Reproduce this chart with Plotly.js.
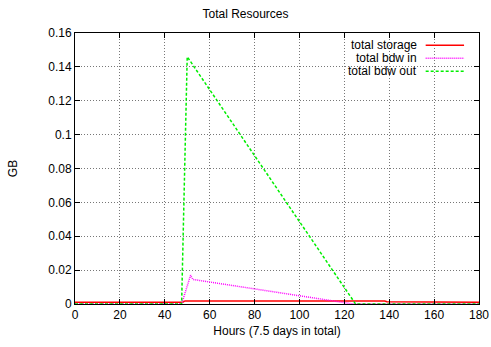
<!DOCTYPE html>
<html><head><meta charset="utf-8">
<script src="https://cdn.plot.ly/plotly-3.0.1.min.js"></script>
<style>body{margin:0;background:#fff}#c{width:491px;height:347px}</style>
</head><body><div id="c"></div>
<script>
const seriesNames = ["total storage", "total bdw in", "total bdw out"];
const storageX = [0, 48, 49, 138, 139, 148, 149, 180];
const storageY = [0.001, 0.001, 0.0018, 0.0018, 0.0013, 0.0013, 0.001, 0.001];
const bdwInX = [0, 47.5, 51.5, 52.5, 124, 180];
const bdwInY = [0, 0, 0.017, 0.0145, 0, 0];
const bdwOutX = [0, 47.5, 50, 125, 180];
const bdwOutY = [0, 0, 0.146, 0, 0];
const xTicks = [0, 20, 40, 60, 80, 100, 120, 140, 160, 180];
const yTicks = [0, 0.02, 0.04, 0.06, 0.08, 0.1, 0.12, 0.14, 0.16];
const yTickText = ["0", "0.02", "0.04", "0.06", "0.08", "0.1", "0.12", "0.14", "0.16"];

const colors = ["#ff0000", "#ff00ff", "#00ee00"];
const dashes = ["solid", "1px,1px", "3px,2px"];
const xs = [storageX, bdwInX, bdwOutX];
const ys = [storageY, bdwInY, bdwOutY];

const traces = xs.map((x, i) => ({
  x: x, y: ys[i], type: "scatter", mode: "lines", name: seriesNames[i],
  line: {color: colors[i], width: 1.5, dash: dashes[i]}, showlegend: false
}));

const ff = "Liberation Sans, Arial, sans-serif";
const annotations = [];
const shapes = [];
const legTop = 0.955, legStep = 0.048;
// white background behind legend to hide grid
shapes.push({type: "rect", xref: "paper", yref: "paper", x0: 0.6, x1: 0.985, y0: 0.85, y1: 0.993,
  fillcolor: "#fff", line: {width: 0}, layer: "between"});
seriesNames.forEach((n, i) => {
  const yy = legTop - i * legStep;
  annotations.push({xref: "paper", yref: "paper", x: 0.852, y: yy, xanchor: "right", yanchor: "middle",
    text: n, showarrow: false, font: {family: ff, size: 12, color: "#000"}});
  shapes.push({type: "line", xref: "paper", yref: "paper", x0: 0.868, x1: 0.963, y0: yy, y1: yy,
    line: {color: colors[i], width: 1.5, dash: dashes[i]}});
});

const axisCommon = {
  ticks: "inside", ticklen: 5, tickcolor: "#000",
  showline: true, linecolor: "#000", linewidth: 1, mirror: "allticks",
  showgrid: true, gridcolor: "#777", griddash: "1px,2px", gridwidth: 1, zeroline: false,
  tickfont: {family: ff, size: 12, color: "#000"}
};

const layout = {
  width: 491, height: 347,
  margin: {l: 75, r: 12, t: 33, b: 43},
  paper_bgcolor: "#fff", plot_bgcolor: "#fff",
  font: {family: ff, size: 12, color: "#000"},
  title: {text: "Total Resources", font: {family: ff, size: 12, color: "#000"}, x: 0.5, xanchor: "center", y: 0.96, yanchor: "middle"},
  xaxis: Object.assign({}, axisCommon, {
    range: [0, 180], tickvals: xTicks,
    title: {text: "Hours (7.5 days in total)", font: {family: ff, size: 12, color: "#000"}, standoff: 5}
  }),
  yaxis: Object.assign({}, axisCommon, {
    range: [0, 0.16], tickvals: yTicks, ticktext: yTickText,
    title: {text: "GB", font: {family: ff, size: 12, color: "#000"}, standoff: 28}
  }),
  annotations: annotations,
  shapes: shapes,
  showlegend: false
};
Plotly.newPlot("c", traces, layout, {staticPlot: true, displayModeBar: false});
</script></body></html>
